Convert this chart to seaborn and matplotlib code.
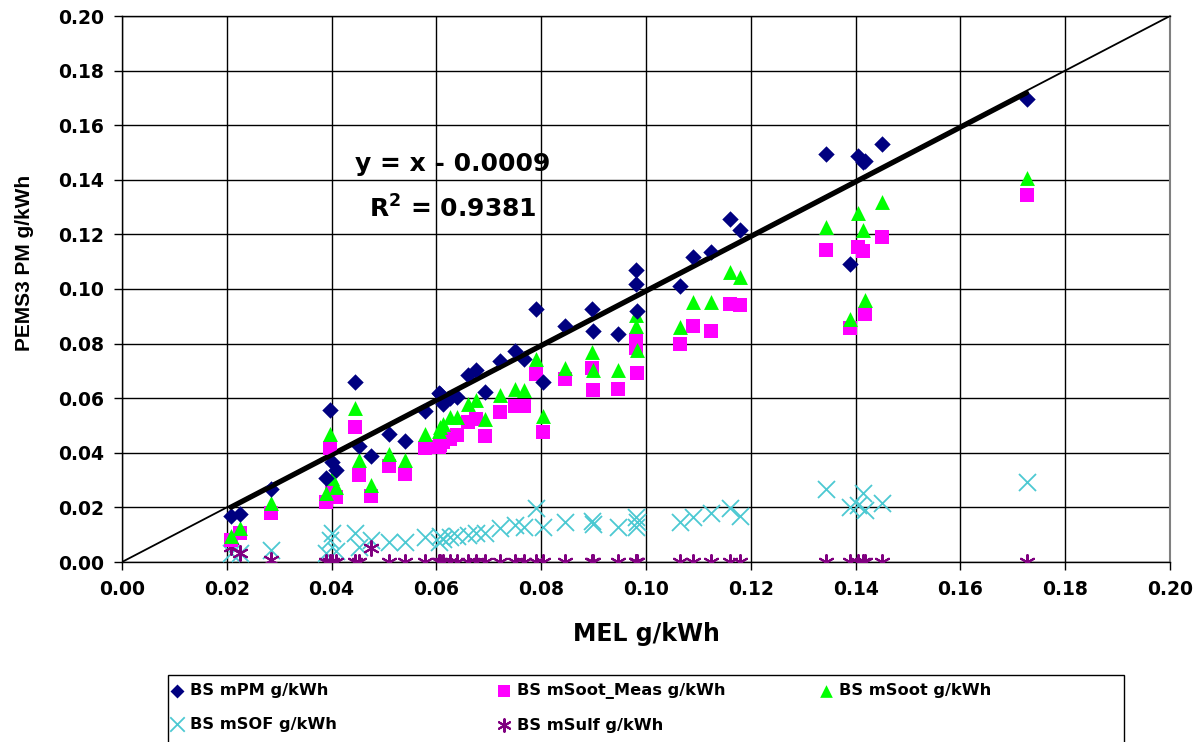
import numpy as np
import pandas as pd
import matplotlib
matplotlib.use("Agg")
import matplotlib.pyplot as plt
import seaborn as sns
from matplotlib.patches import Rectangle

# ---------------- data ----------------
mel = [0.0208, 0.0225, 0.0284, 0.0396, 0.0390, 0.0401, 0.0408, 0.0445, 0.0453, 0.0475,
       0.0510, 0.0540, 0.0579, 0.0605, 0.0607, 0.0613, 0.0625, 0.0639, 0.0660, 0.0675,
       0.0693, 0.0721, 0.0750, 0.0768, 0.0790, 0.0804, 0.0845, 0.0896, 0.0899, 0.0947,
       0.0980, 0.0981, 0.0982, 0.1065, 0.1090, 0.1124, 0.1160, 0.1179, 0.1343, 0.1389,
       0.1405, 0.1414, 0.1418, 0.1451, 0.1727]
m_pm = [0.0168, 0.0175, 0.0267, 0.0556, 0.0306, 0.0367, 0.0336, 0.0659, 0.0424, 0.0388,
        0.0470, 0.0445, 0.0553, 0.0620, 0.0617, 0.0580, 0.0600, 0.0604, 0.0684, 0.0702,
        0.0623, 0.0736, 0.0773, 0.0742, 0.0928, 0.0659, 0.0864, 0.0928, 0.0846, 0.0834,
        0.1071, 0.1019, 0.0921, 0.1010, 0.1116, 0.1134, 0.1257, 0.1216, 0.1494, 0.1090,
        0.1488, 0.1464, 0.1470, 0.1531, 0.1696]
m_soot_meas = [0.0080, 0.0107, 0.0178, 0.0416, 0.0220, 0.0260, 0.0239, 0.0495, 0.0318, 0.0241,
               0.0351, 0.0324, 0.0416, 0.0420, 0.0428, 0.0440, 0.0450, 0.0464, 0.0513, 0.0525,
               0.0461, 0.0550, 0.0571, 0.0571, 0.0687, 0.0476, 0.0671, 0.0712, 0.0629, 0.0635,
               0.0814, 0.0785, 0.0694, 0.0800, 0.0866, 0.0845, 0.0946, 0.0943, 0.1143, 0.0858,
               0.1155, 0.1141, 0.0907, 0.1189, 0.1345]
m_soot = [0.0095, 0.0123, 0.0215, 0.0470, 0.0251, 0.0307, 0.0275, 0.0563, 0.0373, 0.0281,
          0.0394, 0.0373, 0.0470, 0.0480, 0.0495, 0.0507, 0.0531, 0.0531, 0.0580, 0.0592,
          0.0525, 0.0613, 0.0635, 0.0631, 0.0742, 0.0535, 0.0712, 0.0769, 0.0705, 0.0705,
          0.0903, 0.0866, 0.0775, 0.0860, 0.0952, 0.0952, 0.1061, 0.1043, 0.1226, 0.0891,
          0.1277, 0.1216, 0.0958, 0.1317, 0.1408]
m_sof = [0.0032, 0.0032, 0.0044, 0.0080, 0.0032, 0.0106, 0.0040, 0.0105, 0.0056, 0.0080,
         0.0074, 0.0074, 0.0093, 0.0075, 0.0095, 0.0085, 0.0090, 0.0095, 0.0100, 0.0105,
         0.0105, 0.0123, 0.0135, 0.0129, 0.0196, 0.0129, 0.0147, 0.0150, 0.0141, 0.0129,
         0.0166, 0.0129, 0.0147, 0.0147, 0.0166, 0.0180, 0.0196, 0.0168, 0.0269, 0.0202,
         0.0208, 0.0251, 0.0190, 0.0217, 0.0292]
m_sulf = [0.0056, 0.0034, 0.0007, 0.0, 0.0, 0.0, 0.0, 0.0, 0.0, 0.0050,
          0.0, 0.0, 0.0, 0.0, 0.0, 0.0, 0.0, 0.0, 0.0, 0.0,
          0.0, 0.0, 0.0, 0.0, 0.0, 0.0, 0.0, 0.0, 0.0, 0.0,
          0.0, 0.0, 0.0, 0.0, 0.0, 0.0, 0.0, 0.0, 0.0, 0.0,
          0.0, 0.0, 0.0, 0.0, 0.0]

trend_slope = 1.0
trend_intercept = -0.0009
r_squared = 0.9381

x_ticks = [0.00, 0.02, 0.04, 0.06, 0.08, 0.10, 0.12, 0.14, 0.16, 0.18, 0.20]
y_ticks = [0.00, 0.02, 0.04, 0.06, 0.08, 0.10, 0.12, 0.14, 0.16, 0.18, 0.20]

series_labels = ["BS mPM g/kWh", "BS mSoot_Meas g/kWh", "BS mSoot g/kWh",
                 "BS mSOF g/kWh", "BS mSulf g/kWh"]

# ---------------- style ----------------
sns.set_theme(style="white")
plt.rcParams['font.family'] = ['DejaVu Sans']
plt.rcParams['font.weight'] = 'bold'
plt.rcParams['text.color'] = 'black'
plt.rcParams['axes.labelcolor'] = 'black'
plt.rcParams['xtick.color'] = 'black'
plt.rcParams['ytick.color'] = 'black'

df = pd.DataFrame({"MEL": mel, "mPM": m_pm, "mSootMeas": m_soot_meas,
                   "mSoot": m_soot, "mSOF": m_sof, "mSulf": m_sulf})

fig = plt.figure(figsize=(12.04, 7.42), dpi=100)
ax = fig.add_axes([122/1204, 1-562/742, (1170-122)/1204, (562-16)/742])

ax.set_xlim(0, 0.2)
ax.set_ylim(0, 0.2)
ax.set_xticks(x_ticks)
ax.set_yticks(y_ticks)
ax.grid(True, color='black', linewidth=1.0)
ax.set_axisbelow(True)

# identity line
lims = np.array(ax.get_xlim())
ax.plot(lims, lims, color='black', linewidth=1.3, zorder=2)

# scatter series
sns.scatterplot(data=df, x="MEL", y="mSOF", ax=ax, marker='x', color='#4CC9D2',
                s=150, linewidth=1.3, label=series_labels[3], zorder=3)
sns.scatterplot(data=df, x="MEL", y="mSulf", ax=ax, marker=(6, 2, 0), color='#800080',
                s=115, linewidth=1.5, label=series_labels[4], zorder=3)
sns.scatterplot(data=df, x="MEL", y="mSootMeas", ax=ax, marker='s', color='#FF00FF',
                s=105, linewidth=0, label=series_labels[1], zorder=4)
sns.scatterplot(data=df, x="MEL", y="mSoot", ax=ax, marker='^', color='#00FF00',
                s=115, linewidth=0, label=series_labels[2], zorder=5)
sns.scatterplot(data=df, x="MEL", y="mPM", ax=ax, marker='D', color='#000080',
                s=70, linewidth=0, label=series_labels[0], zorder=6)

# trendline
xt = np.array([min(mel), max(mel)])
ax.plot(xt, trend_slope * xt + trend_intercept, color='black', linewidth=3.2, zorder=7)

ax.text(0.0632, 0.1459, "y = x - 0.0009", fontsize=18, fontweight='bold',
        ha='center', va='center', zorder=8, color='black')
ax.text(0.0632, 0.1294, "R$^\\mathbf{2}$ = %.4f" % r_squared, fontsize=18, fontweight='bold',
        ha='center', va='center', zorder=8, color='black')

ax.xaxis.set_major_formatter(matplotlib.ticker.FormatStrFormatter('%.2f'))
ax.yaxis.set_major_formatter(matplotlib.ticker.FormatStrFormatter('%.2f'))
ax.tick_params(axis='both', which='major', direction='out', length=6, width=1,
               color='black', labelcolor='black', labelsize=13.5, pad=7,
               bottom=True, left=True)
for lbl in ax.get_xticklabels() + ax.get_yticklabels():
    lbl.set_fontweight('bold')

for sp in ax.spines.values():
    sp.set_color('black')
    sp.set_linewidth(1.0)
ax.spines['right'].set_color('#808080')
ax.spines['right'].set_linewidth(1.5)

ax.set_xlabel("MEL g/kWh", fontsize=17, fontweight='bold', color='black')
ax.xaxis.set_label_coords(0.5, (562-622)/546)
ax.set_ylabel("PEMS3 PM g/kWh", fontsize=15, fontweight='bold', color='black',
              family=['Liberation Sans', 'DejaVu Sans'])
ax.yaxis.set_label_coords((34-122)/1048, (562-263)/546)

handles, labels = ax.get_legend_handles_labels()
hmap = dict(zip(labels, handles))
if ax.get_legend() is not None:
    ax.get_legend().remove()

# legend frame
fig.add_artist(Rectangle((168/1204, -0.05), (1124-168)/1204, 0.05 + (1-675/742),
                         transform=fig.transFigure, fill=False, edgecolor='black',
                         linewidth=1.0))

cols = [([series_labels[0], series_labels[3]], 166),
        ([series_labels[1], series_labels[4]], 493),
        ([series_labels[2]], 815)]
for labs, xpx in cols:
    leg = fig.legend([hmap[l] for l in labs], labs, loc='upper left',
                     bbox_to_anchor=(xpx/1204, 1-678/742), frameon=False,
                     prop={'weight': 'bold', 'size': 11.7},
                     handlelength=0.8, handletextpad=0.35, labelspacing=1.15,
                     borderpad=0.3, borderaxespad=0, markerscale=0.85)
    for t in leg.get_texts():
        t.set_color('black')

fig.savefig("out.png", dpi=100)
